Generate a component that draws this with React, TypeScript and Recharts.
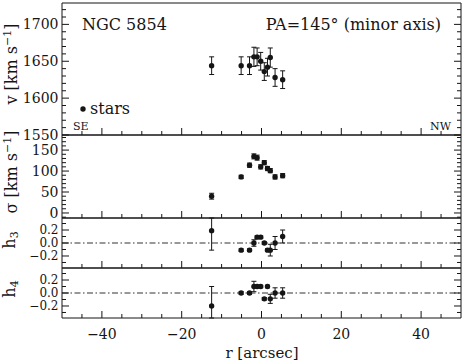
import { ErrorBar, ReferenceLine, Scatter, ScatterChart, XAxis, YAxis } from "recharts";

// radius along the minor axis, arcsec (shared by all four panels)
const radius = [-12.5, -5.1, -3.0, -1.9, -1.1, -0.2, 0.7, 1.5, 2.2, 3.4, 5.3];

const velocity = [1644, 1644, 1644, 1656, 1656, 1650, 1636, 1642, 1655, 1628, 1625];
const velocityErr = [12, 12, 12, 13, 12, 12, 12, 12, 13, 12, 12];

const sigma = [40, 86, 114, 135, 132, 110, 120, 106, 101, 86, 89];
const sigmaErr = [7, 4, 5, 6, 6, 5, 5, 5, 5, 5, 5];

const h3 = [0.19, -0.11, -0.11, 0.0, 0.09, 0.09, 0.0, -0.11, -0.11, 0.0, 0.1];
const h3Err = [0.3, 0.02, 0.02, 0.05, 0.02, 0.02, 0.02, 0.02, 0.09, 0.1, 0.1];

const h4 = [-0.2, 0.0, 0.0, 0.1, 0.1, 0.1, -0.09, 0.1, -0.09, 0.0, 0.0];
const h4Err = [0.3, 0.02, 0.02, 0.08, 0.02, 0.02, 0.02, 0.02, 0.07, 0.08, 0.08];

const xTicks = [-45, -40, -35, -30, -25, -20, -15, -10, -5, 0, 5, 10, 15, 20, 25, 30, 35, 40, 45];
const velocityTicks = [1550, 1560, 1570, 1580, 1590, 1600, 1610, 1620, 1630, 1640, 1650, 1660, 1670, 1680, 1690, 1700, 1710, 1720];
const sigmaTicks = [-10, 0, 10, 20, 30, 40, 50, 60, 70, 80, 90, 100, 110, 120, 130, 140, 150, 160, 170, 180];
const hTicks = [-0.3, -0.2, -0.1, 0, 0.1, 0.2, 0.3];

const W = 463;
const LEFT = 62;
const RIGHT = 461;
const PAD = 14;
const INK = "#151515";
const SERIF = "'DejaVu Serif', 'Liberation Serif', serif";

const fmtInt = (v: number) => String(v).replace("-", "\u2212");
const fmtH = (v: number) => v.toFixed(1).replace("-", "\u2212");
const major50 = (v: number) => v % 50 === 0;
const majorH = (v: number) => Math.round(v * 10) % 2 === 0;

function xTick(side: "bottom" | "top", withLabel: boolean) {
  return (props: any) => {
    const { x, y, payload } = props;
    const v = payload.value as number;
    const major = v % 20 === 0;
    const len = major ? 7 : 4;
    const dir = side === "bottom" ? -1 : 1;
    return (
      <g>
        <line x1={x} x2={x} y1={y} y2={y + dir * len} stroke={INK} />
        {withLabel && major && (
          <text x={x} y={y + 21} textAnchor="middle" fontFamily={SERIF} fontSize={14} fill={INK}>
            {fmtInt(v)}
          </text>
        )}
      </g>
    );
  };
}

function yTick(side: "left" | "right", isMajor: (v: number) => boolean, format: (v: number) => string, fontSize: number) {
  return (props: any) => {
    const { x, y, payload } = props;
    const v = payload.value as number;
    const major = isMajor(v);
    const len = major ? 7 : 4;
    const dir = side === "left" ? 1 : -1;
    return (
      <g>
        <line x1={x} x2={x + dir * len} y1={y} y2={y} stroke={INK} />
        {side === "left" && major && (
          <text x={x - 3.5} y={y} dy="0.36em" textAnchor="end" fontFamily={SERIF} fontSize={fontSize} fill={INK}>
            {format(v)}
          </text>
        )}
      </g>
    );
  };
}

const dot = (p: any) => <circle cx={p.cx} cy={p.cy} r={2.7} fill={INK} />;

type PanelProps = {
  top: number;
  height: number;
  domain: [number, number];
  ticks: number[];
  isMajor: (v: number) => boolean;
  format: (v: number) => string;
  labelSize: number;
  values: number[];
  errors: number[];
  zeroLine?: boolean;
  bottomLabels?: boolean;
};

function Panel({ top, height, domain, ticks, isMajor, format, labelSize, values, errors, zeroLine, bottomLabels }: PanelProps) {
  // error bars stop at the panel frame, as in the printed figure
  const data = radius.map((r, i) => ({
    r,
    y: values[i],
    e: [Math.min(errors[i], values[i] - domain[0]), Math.min(errors[i], domain[1] - values[i])],
  }));
  const bottomH = bottomLabels ? 44 : PAD;
  return (
    <div style={{ position: "absolute", left: 0, top: top - PAD }}>
      <ScatterChart width={W} height={PAD + height + bottomH} margin={{ top: 0, right: 0, bottom: 0, left: 0 }}>
        <XAxis
          xAxisId="b"
          type="number"
          dataKey="r"
          domain={[-50, 50]}
          allowDataOverflow
          ticks={xTicks}
          interval={0}
          orientation="bottom"
          height={bottomH}
          tickSize={0}
          tickMargin={0}
          tickLine={false}
          axisLine={{ stroke: INK }}
          tick={xTick("bottom", !!bottomLabels)}
        />
        <XAxis
          xAxisId="t"
          type="number"
          domain={[-50, 50]}
          allowDataOverflow
          ticks={xTicks}
          interval={0}
          orientation="top"
          height={PAD}
          tickSize={0}
          tickMargin={0}
          tickLine={false}
          axisLine={{ stroke: INK }}
          tick={xTick("top", false)}
        />
        <YAxis
          yAxisId="l"
          type="number"
          dataKey="y"
          domain={domain}
          allowDataOverflow
          ticks={ticks}
          interval={0}
          width={LEFT}
          tickSize={0}
          tickMargin={0}
          tickLine={false}
          axisLine={{ stroke: INK }}
          tick={yTick("left", isMajor, format, labelSize)}
        />
        <YAxis
          yAxisId="r"
          type="number"
          orientation="right"
          domain={domain}
          allowDataOverflow
          ticks={ticks}
          interval={0}
          width={W - RIGHT}
          tickSize={0}
          tickMargin={0}
          tickLine={false}
          axisLine={{ stroke: INK }}
          tick={yTick("right", isMajor, format, labelSize)}
        />
        {zeroLine && (
          <ReferenceLine xAxisId="b" yAxisId="l" y={0} stroke="#333" strokeWidth={1} strokeDasharray="6 2.5 1.5 2.5" />
        )}
        <Scatter xAxisId="b" yAxisId="l" data={data} dataKey="y" isAnimationActive={false} shape={dot}>
          <ErrorBar dataKey="e" direction="y" width={2.5} stroke={INK} strokeWidth={1} />
        </Scatter>
      </ScatterChart>
    </div>
  );
}

export default function App() {
  return (
    <div style={{ position: "absolute", left: 0, top: 0, width: W, height: 362, background: "#fff" }}>
      <Panel top={3} height={132} domain={[1550, 1729]} ticks={velocityTicks} isMajor={major50} format={fmtInt} labelSize={14} values={velocity} errors={velocityErr} />
      <Panel top={135} height={83} domain={[-12, 186]} ticks={sigmaTicks} isMajor={major50} format={fmtInt} labelSize={14} values={sigma} errors={sigmaErr} />
      <Panel top={218} height={50} domain={[-0.385, 0.385]} ticks={hTicks} isMajor={majorH} format={fmtH} labelSize={12} values={h3} errors={h3Err} zeroLine />
      <Panel top={268} height={50} domain={[-0.385, 0.385]} ticks={hTicks} isMajor={majorH} format={fmtH} labelSize={12} values={h4} errors={h4Err} zeroLine bottomLabels />

      <svg width={W} height={362} style={{ position: "absolute", left: 0, top: 0, pointerEvents: "none" }} fontFamily={SERIF} fill={INK}>
        <text x={82} y={30} fontSize={16}>NGC 5854</text>
        <text x={441} y={30} fontSize={16} textAnchor="end">PA=145° (minor axis)</text>
        <circle cx={83} cy={109} r={2.7} />
        <text x={90} y={114} fontSize={16}>stars</text>
        <text x={73} y={130} fontSize={11}>SE</text>
        <text x={451} y={130} fontSize={11} textAnchor="end">NW</text>

        <text transform="translate(17,64) rotate(-90)" textAnchor="middle" fontSize={16}>
          v [km s<tspan dy={-6} fontSize={11}>−1</tspan><tspan dy={6}>]</tspan>
        </text>
        <text transform="translate(17,172) rotate(-90)" textAnchor="middle" fontSize={16}>
          σ [km s<tspan dy={-6} fontSize={11}>−1</tspan><tspan dy={6}>]</tspan>
        </text>
        <text transform="translate(15,240) rotate(-90)" textAnchor="middle" fontSize={16}>
          h<tspan dy={3} fontSize={11}>3</tspan>
        </text>
        <text transform="translate(15,289) rotate(-90)" textAnchor="middle" fontSize={16}>
          h<tspan dy={3} fontSize={11}>4</tspan>
        </text>
        <text x={262} y={358} textAnchor="middle" fontSize={15}>r [arcsec]</text>
      </svg>
    </div>
  );
}
